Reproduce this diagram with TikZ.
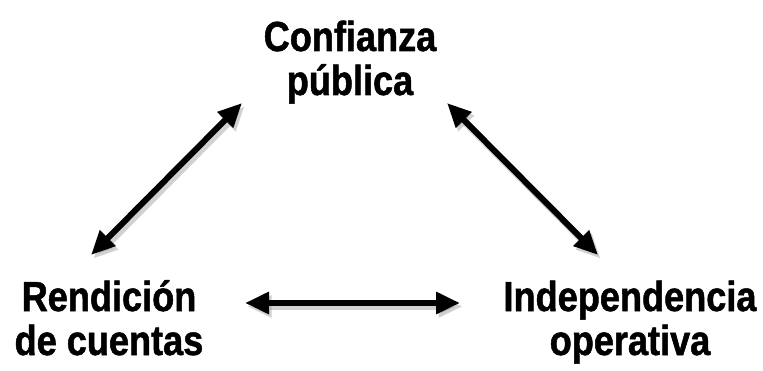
\documentclass[tikz,border=0pt]{standalone}
\usepackage{fontspec}
\setmainfont[FakeStretch=0.86,BoldFeatures={FakeBold=1.2}]{Liberation Sans}
\usetikzlibrary{arrows.meta}
\tikzset{
    label/.style={font=\bfseries\fontsize{42}{44}\selectfont, align=center, anchor=base, inner sep=0pt},
    link/.style={line width=6pt, {Triangle[length=24pt,width=21pt]}-{Triangle[length=24pt,width=21pt]},
        preaction={draw=black!45, opacity=0.4, line width=7pt,
            transform canvas={shift={(2.5pt,-3.5pt)}}}}
}
\begin{document}
\begin{tikzpicture}[x=1pt,y=1pt]
        \useasboundingbox (0,0) rectangle (763,370);
        \node[label] (conf) at (350,275) {Confianza\\pública};
        \node[label] (rend) at (109,15) {Rendición\\de cuentas};
        \node[label] (indep) at (630,15) {Independencia\\operativa};
        % ends of the arrows
        \coordinate (cl) at (242,267);
        \coordinate (cr) at (447,267);
        \coordinate (ru) at (91,115);
        \coordinate (rr) at (245,67);
        \coordinate (il) at (460,67);
        \coordinate (iu) at (598,115);
        \draw[link] (cl) -- (ru);
        \draw[link] (cr) -- (iu);
        \draw[link] (rr) -- (il);
    \end{tikzpicture}
\end{document}
